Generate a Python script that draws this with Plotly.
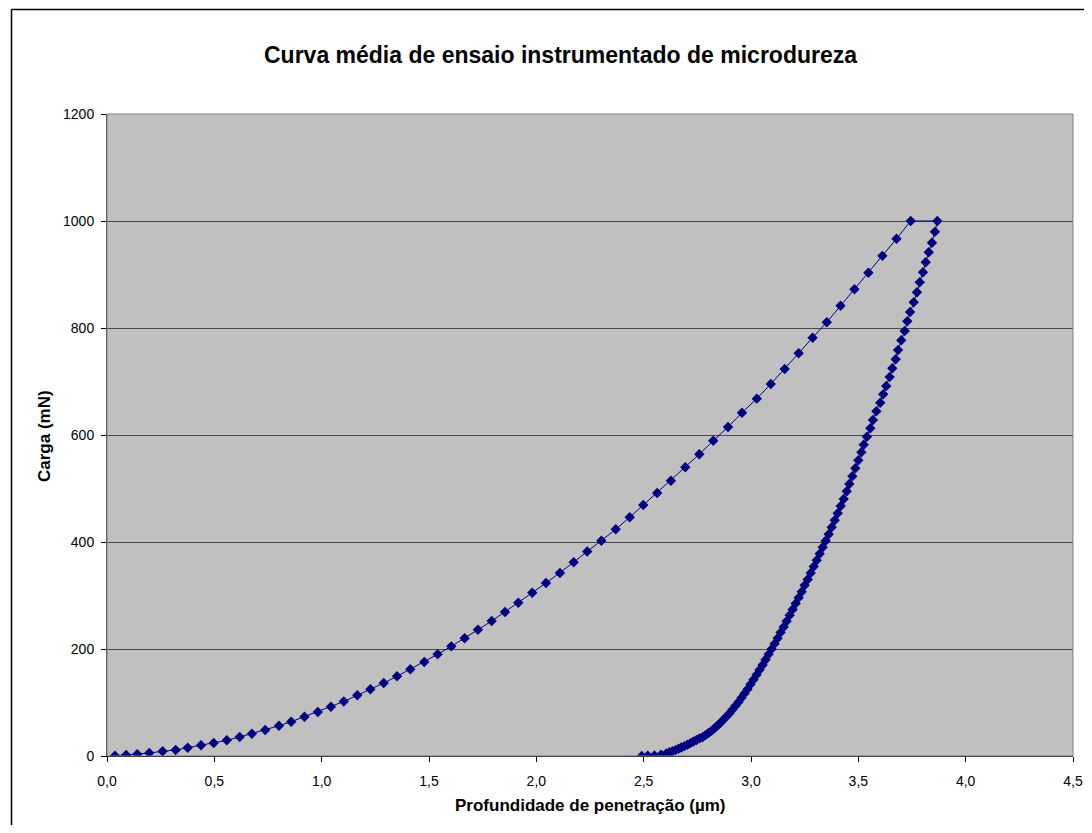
import plotly.graph_objects as go

# Loading branch (depth in µm, force in mN)
load_depth = [0.037, 0.089, 0.141, 0.197, 0.259, 0.320, 0.376, 0.438, 0.497, 0.558,
              0.618, 0.675, 0.737, 0.801, 0.858, 0.920, 0.982, 1.043, 1.103, 1.166,
              1.227, 1.289, 1.351, 1.413, 1.478, 1.540, 1.604, 1.666, 1.728, 1.792,
              1.854, 1.916, 1.981, 2.045, 2.110, 2.174, 2.237, 2.303, 2.370, 2.435,
              2.498, 2.563, 2.627, 2.694, 2.759, 2.824, 2.893, 2.958, 3.027, 3.092,
              3.157, 3.222, 3.287, 3.353, 3.417, 3.482, 3.547, 3.612, 3.678, 3.744]
load_force = [0.5, 1.9, 3.2, 5.6, 8.8, 11.2, 15.5, 20.0, 24.3, 29.3,
              35.5, 41.7, 48.6, 56.6, 64.1, 73.5, 82.2, 92.1, 101.9, 113.5,
              124.7, 136.4, 149.0, 162.1, 175.7, 190.1, 205.0, 220.0, 236.1, 252.3,
              269.2, 286.5, 305.2, 323.4, 342.1, 362.1, 382.2, 402.4, 423.7, 446.2,
              469.2, 491.6, 514.6, 539.6, 563.9, 589.3, 615.0, 641.7, 667.9, 695.3,
              723.4, 752.7, 781.9, 810.7, 841.5, 872.3, 903.4, 934.9, 966.9, 1000.0]

# Hold + unloading branch
unload_depth = [3.868, 3.857, 3.843, 3.828, 3.814, 3.801, 3.786, 3.773, 3.758, 3.741,
                3.728, 3.716, 3.700, 3.685, 3.674, 3.658, 3.646, 3.630, 3.616, 3.602,
                3.584, 3.568, 3.556, 3.540, 3.525, 3.514, 3.500, 3.486, 3.472, 3.458,
                3.446, 3.432, 3.418, 3.404, 3.390, 3.376, 3.362, 3.348, 3.334,
                3.320, 3.306, 3.292, 3.278, 3.264, 3.250, 3.236, 3.222, 3.208, 3.194,
                3.180, 3.166, 3.152, 3.138, 3.124, 3.110, 3.096, 3.082, 3.068, 3.054,
                3.040, 3.026, 3.012, 2.998, 2.984, 2.970, 2.956, 2.942, 2.928, 2.914,
                2.900, 2.886, 2.872, 2.858, 2.844, 2.830, 2.816, 2.802, 2.788, 2.774,
                2.760, 2.746, 2.732, 2.718, 2.704, 2.690, 2.676, 2.662, 2.648, 2.634,
                2.620, 2.606, 2.581, 2.550, 2.519, 2.491]
unload_force = [1000.0, 980.0, 959.4, 941.5, 922.8, 904.1, 885.4, 866.7, 848.0, 829.9,
                812.5, 794.4, 777.0, 758.9, 741.5, 724.7, 708.4, 691.6, 676.1, 660.4,
                644.3, 628.0, 612.5, 596.8, 581.9, 567.7, 552.7, 537.8, 522.8, 508.4,
                494.8, 480.4, 467.3, 453.6, 440.6, 427.5, 414.4, 402.4, 390.1,
                378, 366, 354, 342, 330, 319, 307, 296, 285, 274,
                263, 252, 241, 231, 220, 210, 200, 190, 180, 170,
                161, 152, 143, 134, 125, 117, 109, 101, 94, 87,
                80, 74, 68, 62, 57, 52, 47, 43, 39, 35,
                33, 30, 27, 24, 21, 18.5, 16, 13.5, 11, 9,
                7, 5, 2.5, 1.0, 0.5, 0.0]

title_text = "Curva média de ensaio instrumentado de microdureza"
x_title = "Profundidade de penetração (µm)"
y_title = "Carga (mN)"
x_ticks = [0, 0.5, 1.0, 1.5, 2.0, 2.5, 3.0, 3.5, 4.0, 4.5]
y_ticks = [0, 200, 400, 600, 800, 1000, 1200]

FONT = "Arial, Liberation Sans, sans-serif"
NAVY = "#000080"

fig = go.Figure()
fig.add_trace(go.Scatter(
    x=load_depth + unload_depth,
    y=load_force + unload_force,
    mode="lines+markers",
    line=dict(color=NAVY, width=1),
    marker=dict(symbol="diamond", size=8, color=NAVY, line=dict(width=0)),
    showlegend=False,
    hoverinfo="skip",
))

# page body has an 8px margin; keep the figure inside the window and
# place the plot area at x 107..1073, y 114..756 of the window
OFF = 8
W, H = 1092 - 2 * OFF, 833 - 2 * OFF
PL, PT, PR, PB = 107, 114, 1073, 756
L, T = PL - OFF, PT - OFF
R = W - L - (PR - PL)
B = H - T - (PB - PT)
pw, ph = PR - PL, PB - PT


def px_x(p):
    return (p - PL) / pw


def px_y(p):
    return (PB - p) / ph


fig.update_layout(
    width=W, height=H,
    margin=dict(l=L, r=R, t=T, b=B, pad=0, autoexpand=False),
    paper_bgcolor="white",
    plot_bgcolor="#C0C0C0",
    separators=",.",
    font=dict(family=FONT, size=14, color="black"),
    xaxis=dict(
        range=[0, 4.5], tickvals=x_ticks, tickformat=".1f",
        automargin=False,
        showgrid=False, zeroline=False,
        showline=True, linecolor="black", linewidth=1,
        ticks="outside", ticklen=5, tickcolor="black",
        ticklabelstandoff=7,
        tickfont=dict(family=FONT, size=14, color="black"),
    ),
    yaxis=dict(
        range=[0, 1200], tickvals=y_ticks, tickformat="d",
        automargin=False,
        showgrid=True, gridcolor="#4a4a4a", gridwidth=1,
        zeroline=False,
        showline=True, linecolor="#404040", linewidth=1,
        ticks="outside", ticklen=5, tickcolor="black",
        ticklabelstandoff=4,
        tickfont=dict(family=FONT, size=14, color="black"),
    ),
    shapes=[
        # plot-area frame
        dict(type="rect", xref="paper", yref="paper", x0=0, y0=0, x1=1, y1=1,
             line=dict(color="#808080", width=1), layer="above"),
        # outer chart frame: left and top edges (the others lie outside the picture)
        dict(type="line", xref="paper", yref="paper",
             x0=px_x(11.5), y0=px_y(9.5), x1=px_x(11.5), y1=px_y(830),
             line=dict(color="black", width=1.5)),
        dict(type="line", xref="paper", yref="paper",
             x0=px_x(11.5), y0=px_y(9.5), x1=px_x(1090), y1=px_y(9.5),
             line=dict(color="black", width=1.5)),
    ],
    annotations=[
        dict(text="<b>" + title_text + "</b>", xref="paper", yref="paper",
             x=px_x(560), y=px_y(55), showarrow=False, xanchor="center", yanchor="middle",
             font=dict(family=FONT, size=23, color="black")),
        dict(text="<b>" + x_title + "</b>", xref="paper", yref="paper",
             x=px_x(590), y=px_y(805), showarrow=False, xanchor="center", yanchor="middle",
             font=dict(family=FONT, size=17, color="black")),
        dict(text="<b>" + y_title + "</b>", xref="paper", yref="paper",
             x=px_x(45), y=px_y(436), showarrow=False, xanchor="center", yanchor="middle",
             textangle=-90, font=dict(family=FONT, size=17, color="black")),
    ],
)

fig.write_html("out.html")
